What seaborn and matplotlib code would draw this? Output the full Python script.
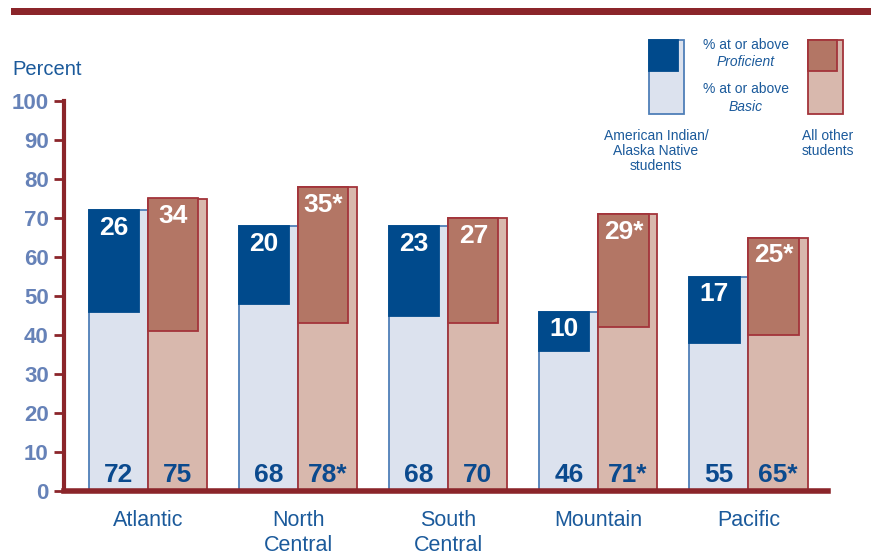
import matplotlib
matplotlib.use('Agg')
import matplotlib.pyplot as plt
from matplotlib.patches import Rectangle
import seaborn as sns
import pandas as pd

# data
regions = ["Atlantic", "North\nCentral", "South\nCentral", "Mountain", "Pacific"]
groups = ["American Indian/Alaska Native", "All other"]
ai_basic = [72, 68, 68, 46, 55]
ai_prof = [26, 20, 23, 10, 17]
other_basic = [75, 78, 70, 71, 65]
other_prof = [34, 35, 27, 29, 25]
ai_basic_sig = ["", "", "", "", ""]
ai_prof_sig = ["", "", "", "", ""]
other_basic_sig = ["", "*", "", "*", "*"]
other_prof_sig = ["", "*", "", "*", "*"]
y_ticks = list(range(0, 101, 10))

# colours
RED = "#8B252A"
BLUE_DARK = "#004A8C"
BLUE_LIGHT = "#DCE2EE"
BLUE_EDGE = "#4F7FB8"
ROSE_DARK = "#B37665"
ROSE_LIGHT = "#D8B8AD"
ROSE_EDGE = "#A3343A"
TEXT_BLUE = "#1B5A9B"
TICK_BLUE = "#6682B8"
VAL_BLUE = "#0B4A8E"

sns.set_theme(style="white")
plt.rcParams['font.family'] = ['Liberation Sans', 'DejaVu Sans']

W, H = 871, 559
fig = plt.figure(figsize=(W / 100, H / 100), dpi=100)


def fx(px):
    return px / W


def fy(py):
    return 1 - py / H


ax = fig.add_axes([fx(64), fy(491), fx(828) - fx(64), fy(101) - fy(491)])

df = pd.DataFrame({
    "region": regions * 2,
    "group": [groups[0]] * len(regions) + [groups[1]] * len(regions),
    "basic": ai_basic + other_basic,
})

sns.barplot(data=df, x="region", y="basic", hue="group", order=regions,
            hue_order=groups, palette=[BLUE_LIGHT, ROSE_LIGHT], width=0.787,
            dodge=True, legend=False, saturation=1, errorbar=None, ax=ax)

prof = [ai_prof, other_prof]
prof_sig = [ai_prof_sig, other_prof_sig]
basic_sig = [ai_basic_sig, other_basic_sig]
dark = [BLUE_DARK, ROSE_DARK]
edges = [BLUE_EDGE, ROSE_EDGE]
box_frac = 0.85

for g, cont in enumerate(ax.containers[:2]):
    for i, p in enumerate(cont.patches):
        p.set_edgecolor(edges[g])
        p.set_linewidth(1.3)
        x0, w, h = p.get_x(), p.get_width(), p.get_height()
        bw = w * box_frac
        ax.bar(x0, prof[g][i], width=bw, bottom=h - prof[g][i], align='edge',
               color=dark[g], edgecolor=dark[g] if g == 0 else ROSE_EDGE,
               linewidth=1.3, zorder=3)
        ax.text(x0 + bw / 2, h - 1.5, f"{prof[g][i]}{prof_sig[g][i]}",
                ha='center', va='top', color='white', fontsize=19,
                fontweight='bold', zorder=4)
        ax.text(x0 + w / 2, 2.2, f"{df['basic'].iloc[g * len(regions) + i]}{basic_sig[g][i]}",
                ha='center', va='baseline', color=VAL_BLUE, fontsize=19,
                fontweight='bold', zorder=4)

ax.set_xlim(-0.56, 4.53)
ax.set_ylim(0, 100)
ax.set_yticks(y_ticks)
ax.set_xlabel("")
ax.set_ylabel("")
for side in ["top", "right"]:
    ax.spines[side].set_visible(False)
ax.spines["left"].set_color(RED)
ax.spines["left"].set_linewidth(3)
ax.spines["bottom"].set_color(RED)
ax.spines["bottom"].set_linewidth(4)
ax.tick_params(axis='y', length=7, width=2, color=RED, pad=4, left=True,
               labelsize=16, labelcolor=TICK_BLUE)
for t in ax.get_yticklabels():
    t.set_fontweight('bold')
ax.tick_params(axis='x', length=0, pad=14, labelsize=15.5, labelcolor=TEXT_BLUE)
for t in ax.get_xticklabels():
    t.set_linespacing(1.25)
    t.set_verticalalignment('top')

# y label
fig.text(fx(12), fy(70), "Percent", ha='left', va='center', fontsize=14.5,
         color=TEXT_BLUE)

# top band
fig.add_artist(Rectangle((fx(11), fy(15)), fx(871) - fx(11), fy(8) - fy(15),
                         transform=fig.transFigure, color=RED, lw=0))

# legend boxes
for lx, light, darkc, edge in [(649, BLUE_LIGHT, BLUE_DARK, BLUE_EDGE),
                               (808, ROSE_LIGHT, ROSE_DARK, ROSE_EDGE)]:
    fig.add_artist(Rectangle((fx(lx), fy(114)), fx(35), fy(40) - fy(114),
                             transform=fig.transFigure, facecolor=light,
                             edgecolor=edge, lw=1.3))
    fig.add_artist(Rectangle((fx(lx), fy(71)), fx(29), fy(40) - fy(71),
                             transform=fig.transFigure, facecolor=darkc,
                             edgecolor=darkc if light == BLUE_LIGHT else edge,
                             lw=1.3))

fig.text(fx(746), fy(45), "% at or above", ha='center', va='center',
         fontsize=10, color=TEXT_BLUE)
fig.text(fx(746), fy(62), "Proficient", ha='center', va='center',
         fontsize=10, color=TEXT_BLUE, style='italic')
fig.text(fx(746), fy(89), "% at or above", ha='center', va='center',
         fontsize=10, color=TEXT_BLUE)
fig.text(fx(746), fy(107), "Basic", ha='center', va='center',
         fontsize=10, color=TEXT_BLUE, style='italic')
fig.text(fx(656), fy(129), "American Indian/\nAlaska Native\nstudents",
         ha='center', va='top', fontsize=10, color=TEXT_BLUE, linespacing=1.1)
fig.text(fx(828), fy(129), "All other\nstudents", ha='center', va='top',
         fontsize=10, color=TEXT_BLUE, linespacing=1.1)

fig.savefig("out.png", dpi=100)
